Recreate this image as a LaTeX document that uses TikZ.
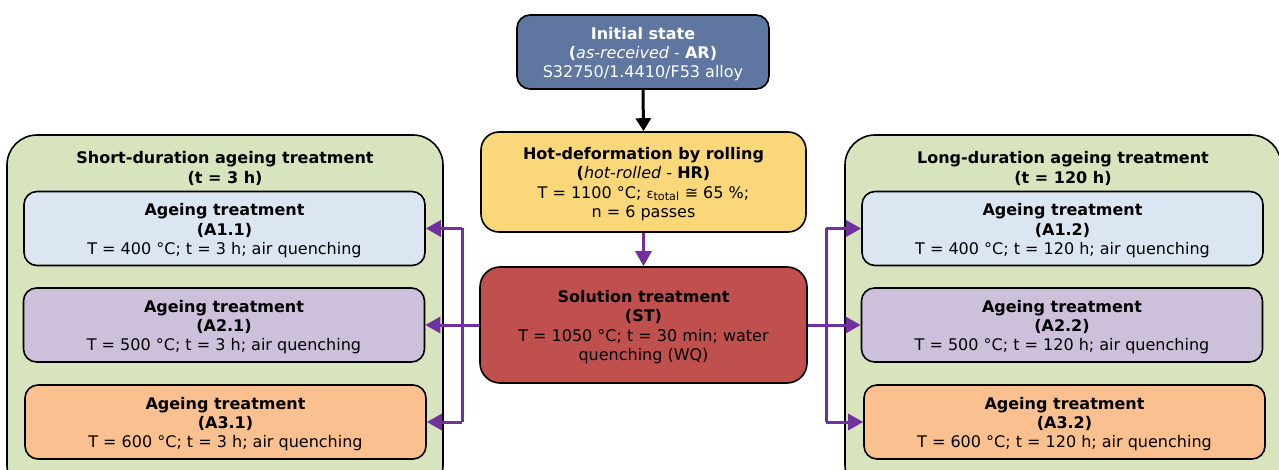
\documentclass[tikz,border=0pt]{standalone}
\usepackage{fontspec}
\setmainfont{DejaVu Sans}
\usetikzlibrary{arrows.meta}
\definecolor{cinit}{RGB}{94,118,160}
\definecolor{chr}{RGB}{250,216,122}
\definecolor{cst}{RGB}{192,80,77}
\definecolor{cgrp}{RGB}{215,228,189}
\definecolor{cblue}{RGB}{220,230,242}
\definecolor{cpurp}{RGB}{204,192,218}
\definecolor{corng}{RGB}{250,192,144}
\definecolor{cline}{RGB}{112,48,160}
\newcommand{\lift}{\rule{0pt}{16.5pt}}
\tikzset{
  box/.style={draw=black, line width=1.6pt, align=center, inner sep=0pt,
    font=\fontsize{16}{19.4}\selectfont},
  grp/.style={draw=black, line width=1.6pt, fill=cgrp, rounded corners=30pt},
  abox/.style={box, rounded corners=13pt, minimum width=401pt, minimum height=74pt},
  gtitle/.style={align=center, font=\fontsize{16}{19.4}\selectfont\bfseries},
  blk/.style={line width=3pt, -{Triangle[length=13pt,width=15pt]}},
  pur/.style={draw=cline, line width=3pt, -{Triangle[length=15pt,width=16pt]}},
  purl/.style={draw=cline, line width=3pt},
}
\begin{document}
\begin{tikzpicture}[x=1pt,y=-1pt]
\useasboundingbox (0,0) rectangle (1279,470);
\fill[white] (0,0) rectangle (1279,470);
% groups
\node[grp, minimum width=436pt, minimum height=360pt] (gl) at (225,315) {};
\node[grp, minimum width=436pt, minimum height=360pt] (gr) at (1063,315) {};
\node[gtitle] (glt) at (225,168.5) {Short-duration ageing treatment\\(t = 3 h)};
\node[gtitle] (grt) at (1063,168.5) {Long-duration ageing treatment\\(t = 120 h)};
% central column
\node[box, fill=cinit, text=white, rounded corners=13pt, minimum width=252pt, minimum height=74pt] (init) at (643,52)
  {\lift\textbf{Initial state}\\\textbf{(}\textit{as-received} - \textbf{AR)}\\S32750/1.4410/F53 alloy};
\node[box, fill=chr, rounded corners=18pt, minimum width=325pt, minimum height=100pt] (hr) at (643.5,182)
  {\lift\textbf{Hot-deformation by rolling}\\\textbf{(}\textit{hot-rolled} - \textbf{HR)}\\T = 1100 °C; {\fontsize{13}{13}\selectfont ε}\textsubscript{total} ≅ 65 \%;\\n = 6 passes};
\node[box, fill=cst, rounded corners=20pt, minimum width=327pt, minimum height=116pt] (st) at (643.5,325)
  {\lift\textbf{Solution treatment}\\\textbf{(ST)}\\T = 1050 °C; t = 30 min; water\\quenching (WQ)};
% left ageing boxes
\node[abox, fill=cblue] (a11) at (224.5,228.5) {\lift\textbf{Ageing treatment}\\\textbf{(A1.1)}\\T = 400 °C; t = 3 h; air quenching};
\node[abox, fill=cpurp] (a21) at (224,325) {\lift\textbf{Ageing treatment}\\\textbf{(A2.1)}\\T = 500 °C; t = 3 h; air quenching};
\node[abox, fill=corng] (a31) at (225.5,422) {\lift\textbf{Ageing treatment}\\\textbf{(A3.1)}\\T = 600 °C; t = 3 h; air quenching};
% right ageing boxes
\node[abox, fill=cblue] (a12) at (1062.5,228.5) {\lift\textbf{Ageing treatment}\\\textbf{(A1.2)}\\T = 400 °C; t = 120 h; air quenching};
\node[abox, fill=cpurp] (a22) at (1062,325) {\lift\textbf{Ageing treatment}\\\textbf{(A2.2)}\\T = 500 °C; t = 120 h; air quenching};
\node[abox, fill=corng] (a32) at (1064.5,422) {\lift\textbf{Ageing treatment}\\\textbf{(A3.2)}\\T = 600 °C; t = 120 h; air quenching};
% connectors
\draw[blk] (init.south) -- (hr.north);
\draw[pur] (hr.south) -- (st.north);
\coordinate (lb) at (462,325);
\coordinate (rb) at (826,325);
\draw[pur] (st.west) -- (a21.east);
\draw[purl] (lb |- a11.east) -- (lb |- a31.east);
\draw[pur] (lb |- a11.east) -- (a11.east);
\draw[pur] (lb |- a31.east) -- (a31.east);
\draw[pur] (st.east) -- (a22.west);
\draw[purl] (rb |- a12.west) -- (rb |- a32.west);
\draw[pur] (rb |- a12.west) -- (a12.west);
\draw[pur] (rb |- a32.west) -- (a32.west);
\end{tikzpicture}
\end{document}
